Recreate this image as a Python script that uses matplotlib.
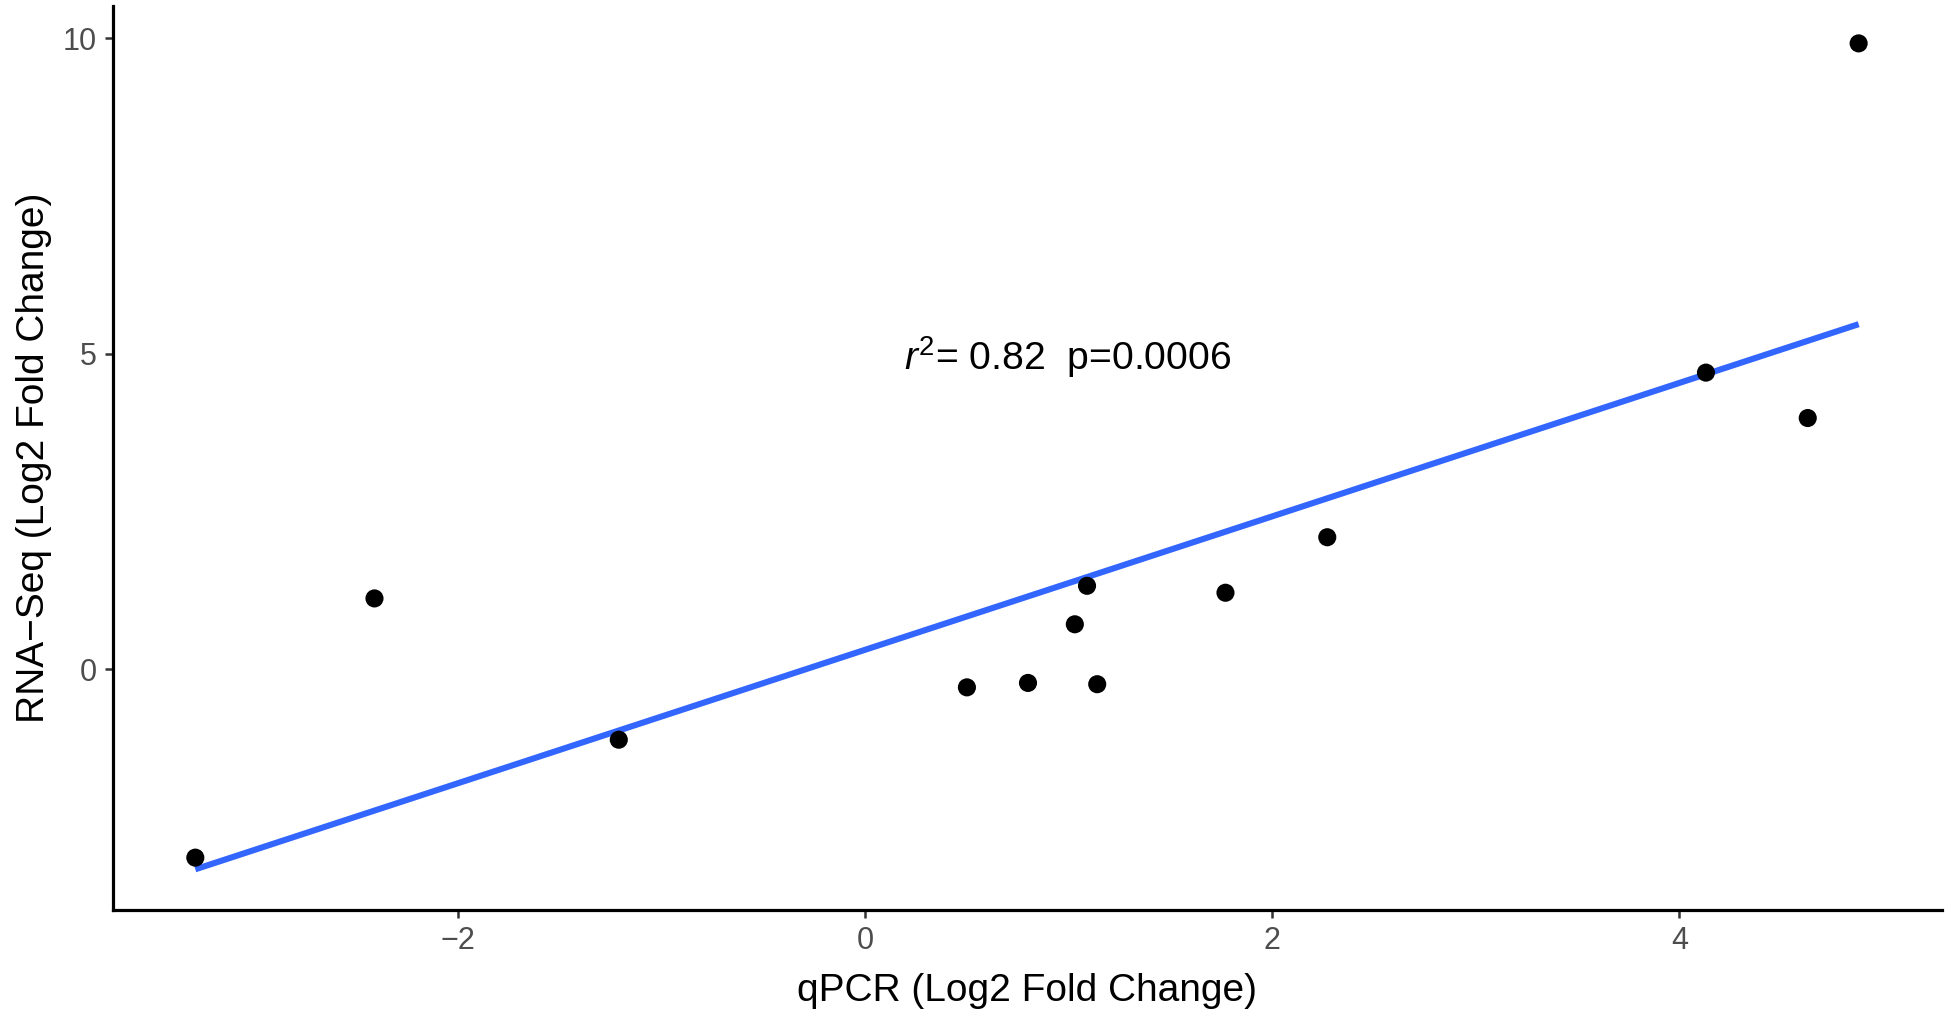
import numpy as np
import matplotlib
matplotlib.use("Agg")
import matplotlib.pyplot as plt

plt.rcParams['font.family'] = ['Liberation Sans', 'DejaVu Sans']
plt.rcParams['mathtext.fontset'] = 'custom'
plt.rcParams['mathtext.rm'] = 'Liberation Sans'
plt.rcParams['mathtext.it'] = 'Liberation Sans:italic'

qpcr = [-3.29, -2.41, -1.21, 0.50, 0.80, 1.03, 1.09, 1.14, 1.77, 2.27, 4.13, 4.63, 4.88]
rnaseq = [-2.99, 1.12, -1.12, -0.29, -0.22, 0.71, 1.32, -0.24, 1.21, 2.09, 4.70, 3.98, 9.92]
xticks = [-2, 0, 2, 4]
yticks = [0, 5, 10]
annot = r"$\it{r}^{2}$= 0.82  p=0.0006"
xlabel = "qPCR (Log2 Fold Change)"
ylabel = "RNA\u2212Seq (Log2 Fold Change)"

x = np.array(qpcr)
y = np.array(rnaseq)
slope, icpt = np.polyfit(x, y, 1)

fig = plt.figure(figsize=(19.46, 10.11), dpi=100)
ax = fig.add_axes([0.058, 0.0999, 0.940, 0.894])

xs = np.array([x.min(), x.max()])
ax.plot(xs, icpt + slope * xs, color='#3366FF', lw=4.4, solid_capstyle='butt', zorder=2)
ax.scatter(x, y, s=170, color='black', edgecolors='none', zorder=3)

ax.text(0.19, 4.94, annot, fontsize=28.2, ha='left', va='center', color='black')

ax.set_xlim(-3.695, 5.29)
ax.set_ylim(-3.82, 10.51)
ax.set_xticks(xticks)
ax.set_yticks(yticks)
ax.set_xticklabels([f"\u2212{abs(v)}" if v < 0 else str(v) for v in xticks])
ax.set_yticklabels([str(v) for v in yticks])
ax.tick_params(axis='both', labelsize=22, labelcolor='#4D4D4D', color='#333333',
               length=5.5, width=1.8, direction='out', pad=6)
for s in ['top', 'right']:
    ax.spines[s].set_visible(False)
for s in ['left', 'bottom']:
    ax.spines[s].set_linewidth(2.3)
    ax.spines[s].set_color('black')
ax.set_xlabel(xlabel, fontsize=28, labelpad=12)
ax.set_ylabel(ylabel, fontsize=28, labelpad=8)

fig.savefig('out.png', dpi=100, facecolor='white')
